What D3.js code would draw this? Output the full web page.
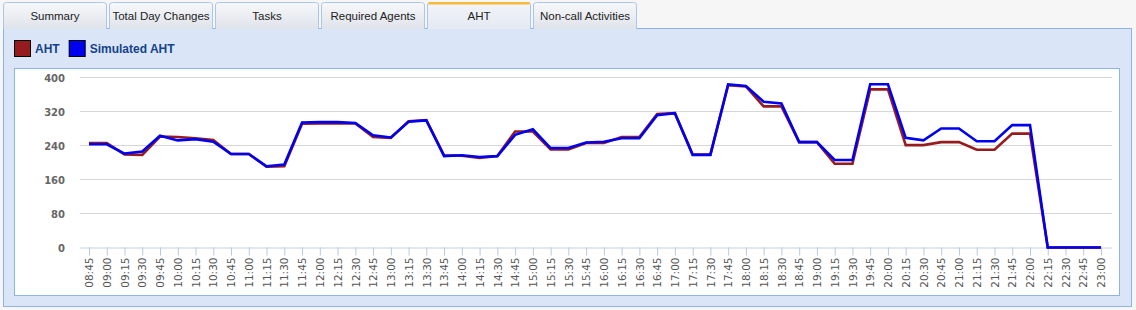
<!DOCTYPE html>
<html>
<head>
<meta charset="utf-8">
<script src="https://cdn.jsdelivr.net/npm/d3@7"></script>
<style>
  body { margin: 0; background: #f6f6f6; font-family: "Liberation Sans", Arial, sans-serif; }
</style>
</head>
<body>
<script>
const tabs = ['Summary', 'Total Day Changes', 'Tasks', 'Required Agents', 'AHT', 'Non-call Activities'];
const activeTab = 'AHT';

const times = ['08:45','09:00','09:15','09:30','09:45','10:00','10:15','10:30','10:45','11:00',
  '11:15','11:30','11:45','12:00','12:15','12:30','12:45','13:00','13:15','13:30',
  '13:45','14:00','14:15','14:30','14:45','15:00','15:15','15:30','15:45','16:00',
  '16:15','16:30','16:45','17:00','17:15','17:30','17:45','18:00','18:15','18:30',
  '18:45','19:00','19:15','19:30','19:45','20:00','20:15','20:30','20:45','21:00',
  '21:15','21:30','21:45','22:00','22:15','22:30','22:45','23:00'];

const aht = [246,246,219,218,261,260,257,253,220,220,
  190,191,291,292,292,292,260,258,297,300,
  217,216,211,215,273,273,231,231,246,246,
  260,260,314,316,219,219,382,379,332,332,
  248,248,197,197,372,372,241,241,248,248,
  230,230,268,268,0,0,0,0];

const simAht = [243,243,221,226,263,252,255,249,220,220,
  191,195,294,295,295,293,264,259,296,299,
  215,217,213,215,265,278,234,234,247,249,
  257,257,311,316,218,218,384,380,343,339,
  248,248,206,206,384,384,258,252,280,280,
  250,250,288,288,0,0,0,0];

const yTicks = [0, 80, 160, 240, 320, 400];

const series = [
  { name: 'AHT', color: '#961b1e', values: aht },
  { name: 'Simulated AHT', color: '#0000f0', values: simAht }
];

const w = 1136, h = 310;
const svg = d3.select('body').append('svg').attr('width', w).attr('height', h);

const defs = svg.append('defs');
const tg = defs.append('linearGradient').attr('id', 'tabg').attr('x1', 0).attr('y1', 0).attr('x2', 0).attr('y2', 1);
tg.append('stop').attr('offset', '0%').attr('stop-color', '#f7f8fa');
tg.append('stop').attr('offset', '100%').attr('stop-color', '#dfe3ea');
const ta = defs.append('linearGradient').attr('id', 'tabActive').attr('x1', 0).attr('y1', 0).attr('x2', 0).attr('y2', 1);
ta.append('stop').attr('offset', '0%').attr('stop-color', '#f2f4f8');
ta.append('stop').attr('offset', '100%').attr('stop-color', '#e4e9f2');

// panel
svg.append('rect')
  .attr('x', 3.5).attr('y', 28.5).attr('width', 1128).attr('height', 278)
  .attr('fill', '#dae6f7').attr('stroke', '#8fb3e4');

// tabs
const tabW = 103, tabGap = 3;
const tabG = svg.append('g');
tabs.forEach((t, i) => {
  const x = 3.5 + i * (tabW + tabGap);
  const active = t === activeTab;
  tabG.append('path')
    .attr('d', `M${x},29 L${x},5 Q${x},2.5 ${x + 3},2.5 L${x + tabW - 3},2.5 Q${x + tabW},2.5 ${x + tabW},5 L${x + tabW},29`)
    .attr('fill', active ? 'url(#tabActive)' : 'url(#tabg)')
    .attr('stroke', '#aac6ea');
  if (active) {
    tabG.append('rect').attr('x', x + 1).attr('y', 2).attr('width', tabW - 2).attr('height', 2.5)
      .attr('fill', '#f6b93b');
  }
  tabG.append('text')
    .attr('x', x + tabW / 2).attr('y', 20)
    .attr('text-anchor', 'middle')
    .attr('font-size', '11.5px')
    .attr('fill', '#222')
    .text(t);
});

// legend
let lx = 14;
series.forEach(s => {
  svg.append('rect').attr('x', lx + 0.5).attr('y', 40.5).attr('width', 16).attr('height', 16)
    .attr('fill', s.color).attr('stroke', '#000');
  const txt = svg.append('text').attr('x', lx + 21).attr('y', 52.5)
    .attr('font-size', '12px').attr('font-weight', 'bold').attr('fill', '#15428b')
    .text(s.name);
  lx += 21 + txt.node().getComputedTextLength() + 9;
});

// plot box
svg.append('rect')
  .attr('x', 14.5).attr('y', 68.5).attr('width', 1105).attr('height', 227)
  .attr('fill', '#fff').attr('stroke', '#8fb3e4');

const xScale = d3.scalePoint().domain(times).range([89, 1101]);
const yScale = d3.scaleLinear().domain([0, 400]).range([247.5, 77.5]);

const g = svg.append('g');

// grid
g.selectAll('.grid').data(yTicks.filter(d => d > 0)).enter().append('line')
  .attr('x1', 80).attr('x2', 1112)
  .attr('y1', d => yScale(d)).attr('y2', d => yScale(d))
  .attr('stroke', '#d6d6d6').attr('stroke-width', 1.2);

// y labels
g.selectAll('.ylab').data(yTicks).enter().append('text')
  .attr('x', 65).attr('y', d => yScale(d) + 4)
  .attr('text-anchor', 'end')
  .attr('font-family', '"DejaVu Sans", sans-serif')
  .attr('font-size', '10px').attr('font-weight', 'bold')
  .attr('fill', '#666')
  .text(d => d);

// x axis
const xAxis = d3.axisBottom(xScale).tickSize(8).tickSizeOuter(0);
const xAxisG = g.append('g')
  .attr('transform', `translate(0, ${yScale(0)})`)
  .call(xAxis);
xAxisG.select('.domain').attr('d', `M80,0.5H1112`).attr('stroke', '#c6d2e0');
xAxisG.selectAll('.tick line').attr('stroke', '#b9c9dd');
xAxisG.selectAll('.tick text')
  .attr('transform', 'rotate(-90)')
  .attr('text-anchor', 'end')
  .attr('x', -10).attr('y', 0).attr('dy', '0.35em')
  .attr('font-family', '"DejaVu Sans", sans-serif')
  .attr('font-size', '10.5px')
  .attr('fill', '#555');

// lines
const line = d3.line()
  .x((d, i) => xScale(times[i]))
  .y(d => yScale(d));

series.forEach(s => {
  g.append('path')
    .datum(s.values)
    .attr('d', line)
    .attr('fill', 'none')
    .attr('stroke', s.color)
    .attr('stroke-width', 2.6)
    .attr('stroke-linejoin', 'miter');
});
</script>
</body>
</html>
